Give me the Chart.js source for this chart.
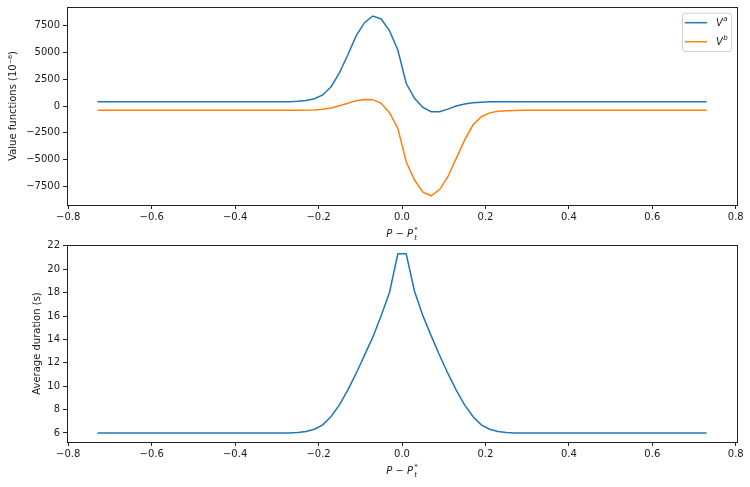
<!DOCTYPE html>
<html>
<head>
<meta charset="utf-8">
<script src="https://cdn.jsdelivr.net/npm/chart.js@4"></script>
<style>
  html, body { margin: 0; padding: 0; background: #fff; }
  #wrap { position: relative; width: 750px; height: 487px; overflow: hidden; }
  .box { position: absolute; left: 0; width: 750px; }
</style>
</head>
<body>
<div id="wrap">
  <div class="box" style="top:-10px;height:253px"><canvas id="topChart"></canvas></div>
  <div class="box" style="top:233px;height:254px"><canvas id="botChart"></canvas></div>
</div>
<script>
// price gap P - P*_t (x positions of the samples)
const priceGap = [
  -0.73, -0.71, -0.69, -0.67, -0.65, -0.63, -0.61, -0.59, -0.57, -0.55,
  -0.53, -0.51, -0.49, -0.47, -0.45, -0.43, -0.41, -0.39, -0.37, -0.35,
  -0.33, -0.31, -0.29, -0.27, -0.25, -0.23, -0.21, -0.19, -0.17, -0.15,
  -0.13, -0.11, -0.09, -0.07, -0.05, -0.03, -0.01,
  0.01, 0.03, 0.05, 0.07, 0.09, 0.11, 0.13, 0.15, 0.17, 0.19,
  0.21, 0.23, 0.25, 0.27, 0.29, 0.31, 0.33, 0.35, 0.37, 0.39,
  0.41, 0.43, 0.45, 0.47, 0.49, 0.51, 0.53, 0.55, 0.57, 0.59,
  0.61, 0.63, 0.65, 0.67, 0.69, 0.71, 0.73
];

// value function V^a (10^-6)
const valueA = [
  400, 400, 400, 400, 400, 400, 400, 400, 400, 400,
  400, 400, 400, 400, 400, 400, 400, 400, 400, 400,
  400, 400, 400, 405, 440, 520, 680, 1030, 1800, 3100,
  4760, 6540, 7780, 8400, 8120, 7030, 5230,
  2120, 720, -130, -530, -530, -290, 0, 180, 300, 360,
  390, 400, 400, 400, 400, 400, 400, 400, 400, 400,
  400, 400, 400, 400, 400, 400, 400, 400, 400, 400,
  400, 400, 400, 400, 400, 400, 400
];

// value function V^b (10^-6)
const valueB = [
  -400, -400, -400, -400, -400, -400, -400, -400, -400, -400,
  -400, -400, -400, -400, -400, -400, -400, -400, -400, -400,
  -400, -400, -400, -400, -395, -385, -370, -310, -190, 30,
  250, 500, 600, 590, 250, -630, -2090,
  -5200, -6910, -8050, -8380, -7800, -6600, -4890, -3180, -1780, -1000,
  -640, -500, -440, -410, -400, -400, -400, -400, -400, -400,
  -400, -400, -400, -400, -400, -400, -400, -400, -400, -400,
  -400, -400, -400, -400, -400, -400, -400
];

// average duration (s)
const duration = [
  6.0, 6.0, 6.0, 6.0, 6.0, 6.0, 6.0, 6.0, 6.0, 6.0,
  6.0, 6.0, 6.0, 6.0, 6.0, 6.0, 6.0, 6.0, 6.0, 6.0,
  6.0, 6.0, 6.0, 6.01, 6.04, 6.12, 6.32, 6.70, 7.41, 8.40,
  9.67, 11.09, 12.64, 14.19, 16.03, 18.01, 21.32,
  21.32, 18.12, 16.03, 14.30, 12.64, 11.09, 9.67, 8.40, 7.41, 6.70,
  6.32, 6.12, 6.04, 6.01, 6.0, 6.0, 6.0, 6.0, 6.0, 6.0,
  6.0, 6.0, 6.0, 6.0, 6.0, 6.0, 6.0, 6.0, 6.0, 6.0,
  6.0, 6.0, 6.0, 6.0, 6.0, 6.0, 6.0
];

const xTicks = [-0.8, -0.6, -0.4, -0.2, 0, 0.2, 0.4, 0.6, 0.8];
const yTicksTop = [-7500, -5000, -2500, 0, 2500, 5000, 7500];
const yTicksBot = [6, 8, 10, 12, 14, 16, 18, 20, 22];
const legendMain = 'V';
const legendSup = ['a', 'b'];

const BLUE = '#1f77b4';
const ORANGE = '#ff7f0e';
const FONT = 'DejaVu Sans';
const INK = '#1a1a1a';

const minus = s => String(s).replace('-', '\u2212');
const toPts = ys => priceGap.map((x, i) => ({ x: x, y: ys[i] }));

// box around the plot area (matplotlib spines)
const frame = {
  id: 'frame',
  afterDraw(chart) {
    const ca = chart.chartArea, ctx = chart.ctx;
    ctx.save();
    ctx.strokeStyle = '#222';
    ctx.lineWidth = 1;
    ctx.strokeRect(Math.round(ca.left) + 0.5, Math.round(ca.top) + 0.5,
      Math.round(ca.right - ca.left), Math.round(ca.bottom - ca.top));
    ctx.restore();
  }
};

// x axis label P - P*_t with sub/superscript
const xTitle = {
  id: 'xTitle',
  afterDraw(chart) {
    const ca = chart.chartArea, ctx = chart.ctx;
    const base = ca.bottom + 31.5;
    ctx.save();
    ctx.fillStyle = INK;
    ctx.textBaseline = 'alphabetic';
    const it = 'italic 10px "' + FONT + '"';
    const rg = '10px "' + FONT + '"';
    const sm = 'italic 7px "' + FONT + '"';
    ctx.font = it; const wP = ctx.measureText('P').width;
    ctx.font = rg; const wM = ctx.measureText(' \u2212 ').width;
    ctx.font = sm; const wS = Math.max(ctx.measureText('*').width, ctx.measureText('t').width);
    const total = wP * 2 + wM + wS + 1;
    let x = (ca.left + ca.right) / 2 - total / 2;
    ctx.font = it; ctx.fillText('P', x, base); x += wP;
    ctx.font = rg; ctx.fillText(' \u2212 ', x, base); x += wM;
    ctx.font = it; ctx.fillText('P', x, base); x += wP + 1;
    ctx.font = sm; ctx.fillText('*', x, base - 4.5); ctx.fillText('t', x, base + 3);
    ctx.restore();
  }
};

// legend box in the upper right corner
const legendBox = {
  id: 'legendBox',
  afterDraw(chart) {
    const ca = chart.chartArea, ctx = chart.ctx;
    const bx = ca.right - 55, by = ca.top + 5.7, bw = 49, bh = 38.3;
    ctx.save();
    ctx.fillStyle = 'rgba(255,255,255,0.8)';
    ctx.strokeStyle = '#d0d0d0';
    ctx.lineWidth = 1;
    ctx.beginPath();
    ctx.roundRect(bx + 0.5, by + 0.5, bw, bh, 2.5);
    ctx.fill();
    ctx.stroke();
    chart.data.datasets.forEach((ds, i) => {
      const ly = by + 10 + i * 19;
      ctx.strokeStyle = ds.borderColor;
      ctx.lineWidth = 1.5;
      ctx.beginPath();
      ctx.moveTo(ca.right - 52, ly);
      ctx.lineTo(ca.right - 30, ly);
      ctx.stroke();
      ctx.fillStyle = INK;
      ctx.textBaseline = 'middle';
      ctx.font = 'italic 10px "' + FONT + '"';
      const tx = ca.right - 21;
      ctx.fillText(legendMain, tx, ly + 0.5);
      const w = ctx.measureText(legendMain).width;
      ctx.font = 'italic 7px "' + FONT + '"';
      ctx.fillText(legendSup[i], tx + w + 0.5, ly - 3.5);
    });
    ctx.restore();
  }
};

function xScale() {
  return {
    type: 'linear',
    min: -0.803,
    max: 0.803,
    afterBuildTicks: s => { s.ticks = xTicks.map(v => ({ value: v })); },
    afterFit: s => { s.height = 38; },
    border: { display: false },
    grid: { drawOnChartArea: false, drawTicks: true, tickLength: 4, color: '#222' },
    ticks: {
      color: INK, padding: 2, maxRotation: 0,
      font: { family: FONT, size: 10 },
      callback: v => minus(v.toFixed(1))
    }
  };
}

function yScale(min, max, ticks, width, title) {
  return {
    type: 'linear',
    min: min,
    max: max,
    afterBuildTicks: s => { s.ticks = ticks.map(v => ({ value: v })); },
    afterFit: s => { s.width = width; },
    border: { display: false },
    grid: { drawOnChartArea: false, drawTicks: true, tickLength: 4, color: '#222' },
    ticks: {
      color: INK, padding: 3,
      font: { family: FONT, size: 10 },
      callback: v => minus(v)
    },
    title: {
      display: true, text: title, color: INK,
      font: { family: FONT, size: 10 },
      padding: { top: 7, bottom: 4 }
    }
  };
}

const line = (label, ys, color) => ({
  label: label,
  data: toPts(ys),
  borderColor: color,
  backgroundColor: color,
  borderWidth: 1.5,
  pointRadius: 0,
  tension: 0,
  fill: false
});

new Chart(document.getElementById('topChart'), {
  type: 'line',
  data: {
    datasets: [
      line('V\u1d43', valueA, BLUE),
      line('V\u1d47', valueB, ORANGE)
    ]
  },
  options: {
    responsive: true,
    maintainAspectRatio: false,
    animation: false,
    layout: { padding: { top: 17, right: 13, bottom: 0, left: 0 } },
    plugins: { legend: { display: false }, tooltip: { enabled: false } },
    scales: {
      x: xScale(),
      y: yScale(-9240, 9240, yTicksTop, 67, 'Value functions (10\u207b\u2076)')
    }
  },
  plugins: [frame, xTitle, legendBox]
});

new Chart(document.getElementById('botChart'), {
  type: 'line',
  data: {
    datasets: [line('Average duration', duration, BLUE)]
  },
  options: {
    responsive: true,
    maintainAspectRatio: false,
    animation: false,
    layout: { padding: { top: 12, right: 13, bottom: 7, left: 24 } },
    plugins: { legend: { display: false }, tooltip: { enabled: false } },
    scales: {
      x: xScale(),
      y: yScale(5.23, 22.07, yTicksBot, 43, 'Average duration (s)')
    }
  },
  plugins: [frame, xTitle]
});
</script>
</body>
</html>
